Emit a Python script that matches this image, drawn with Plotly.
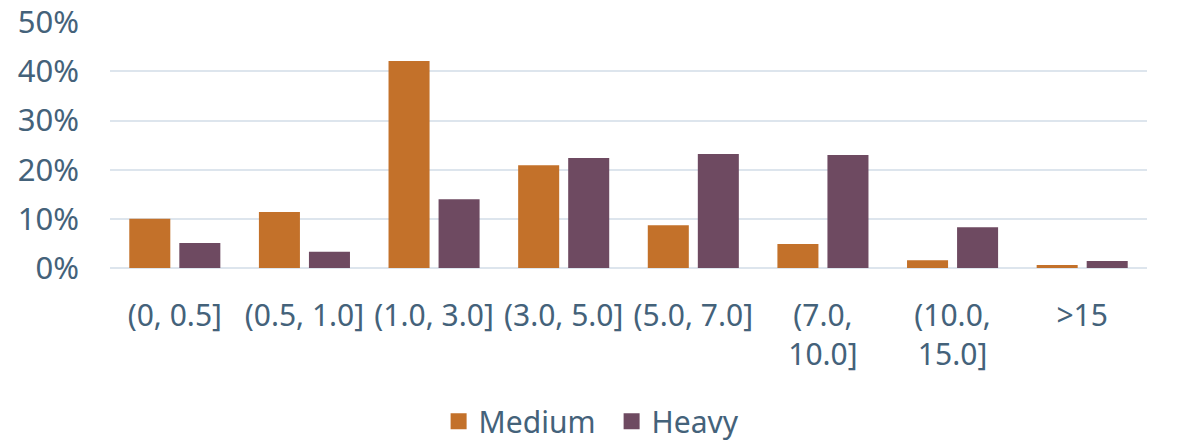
import plotly.graph_objects as go

# Distance bins and share of trips per vehicle class
categories = ["(0, 0.5]", "(0.5, 1.0]", "(1.0, 3.0]", "(3.0, 5.0]", "(5.0, 7.0]",
              "(7.0,<br>10.0]", "(10.0,<br>15.0]", ">15"]
medium = [0.100, 0.114, 0.421, 0.209, 0.087, 0.049, 0.016, 0.006]
heavy = [0.051, 0.033, 0.140, 0.224, 0.232, 0.230, 0.083, 0.014]

series_names = ["Medium", "Heavy"]
series_colors = ["#C3712A", "#6E4A61"]

text_color = "#44627A"
grid_color = "#DDE5ED"
font_family = "Segoe UI, Noto Sans, Open Sans, sans-serif"

fig = go.Figure()
for name, values, color in zip(series_names, [medium, heavy], series_colors):
    fig.add_trace(go.Bar(name=name, x=categories, y=values, showlegend=False,
                         marker=dict(color=color, line=dict(width=0))))
# Legend entries with larger square swatches
for name, color in zip(series_names, series_colors):
    fig.add_trace(go.Scatter(name=name, x=[None], y=[None], mode="markers",
                             marker=dict(symbol="square", size=20, color=color),
                             showlegend=True))

fig.update_layout(
    width=1183, height=441,
    margin=dict(l=110, r=36, t=22, b=173, autoexpand=False),
    paper_bgcolor="white", plot_bgcolor="white",
    barmode="group", bargap=0.228, bargroupgap=0.18,
    font=dict(family=font_family, size=30, color=text_color),
    legend=dict(orientation="h", xref="container", x=0.517, xanchor="center",
                yref="container", y=0.045, yanchor="middle",
                font=dict(size=30, color=text_color), itemsizing="trace",
                itemwidth=30, entrywidth=128, traceorder="normal"),
    showlegend=True,
)
fig.update_yaxes(range=[0, 0.5005], tickvals=[0, 0.1, 0.2, 0.3, 0.4, 0.5],
                 tickformat=".0%", automargin=False,
                 showgrid=True, gridcolor=grid_color, gridwidth=2,
                 zeroline=True, zerolinecolor=grid_color, zerolinewidth=2,
                 showline=False, ticks="", ticklabelstandoff=30,
                 tickfont=dict(size=31, color=text_color))
fig.update_xaxes(showgrid=False, showline=False, ticks="", automargin=False,
                 tickangle=0, ticklabelstandoff=27,
                 tickfont=dict(size=30, color=text_color))

fig.write_html("out.html")
